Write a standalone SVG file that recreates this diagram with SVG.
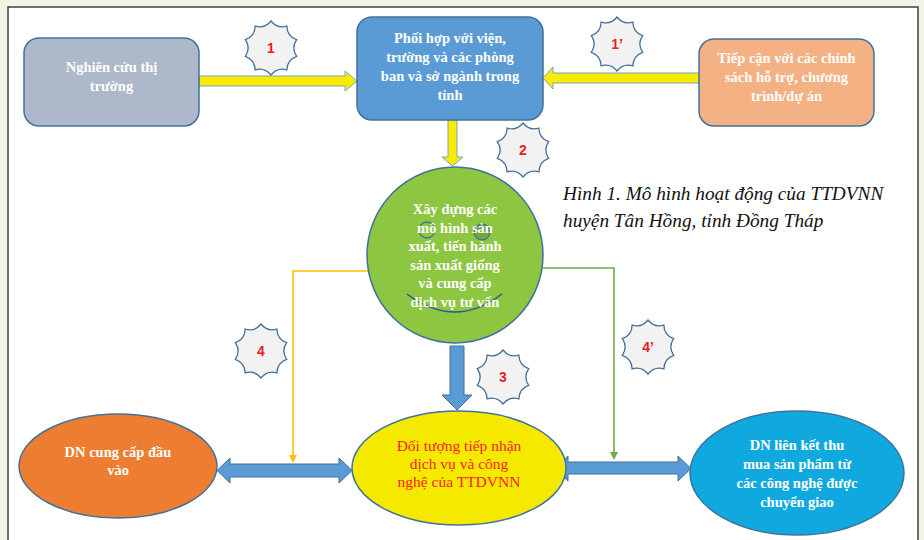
<svg xmlns="http://www.w3.org/2000/svg" xmlns:xlink="http://www.w3.org/1999/xlink" width="924" height="540" viewBox="0 0 924 540">
<style>
.bg{fill:#f4f4e6}
.frame{fill:#ffffff;stroke:#3f3f3f;stroke-width:1.5}
.node{stroke:#41719c;stroke-width:1.5}
.wt{font-family:"Liberation Serif","Times New Roman",serif;font-weight:bold;font-size:14.5px;fill:#ffffff;text-anchor:middle}
.rt{font-family:"Liberation Serif","Times New Roman",serif;font-size:15.5px;fill:#ff1a1a;text-anchor:middle}
.badge{fill:#f2f2f2;stroke:#41719c;stroke-width:1.3}
.bt{font-family:"Liberation Sans",Arial,sans-serif;font-weight:bold;font-size:14px;fill:#ee1c1c;text-anchor:middle}
.yarrow{fill:#f7ec00;stroke:#7f9fd0;stroke-width:1}
.barrow{fill:#5b9bd5;stroke:#41719c;stroke-width:1}
.cap{font-family:"Liberation Serif","Times New Roman",serif;font-style:italic;font-size:19.3px;fill:#111111}
</style>
<defs>
<path id="star" d="M0,-27 Q6.18,-19.02 15.87,-21.84 Q16.18,-11.76 25.68,-8.34 Q20,0 25.68,8.34 Q16.18,11.76 15.87,21.84 Q6.18,19.02 0,27 Q-6.18,19.02 -15.87,21.84 Q-16.18,11.76 -25.68,8.34 Q-20,0 -25.68,-8.34 Q-16.18,-11.76 -15.87,-21.84 Q-6.18,-19.02 0,-27 Z"/>
</defs>
<rect class="bg" x="0" y="0" width="924" height="540"/>
<rect class="frame" x="8" y="7" width="910" height="560"/>

<g id="connectors">
<polygon class="yarrow" points="199,76 345,76 345,71 357,81 345,91 345,86 199,86"/>
<polygon class="yarrow" points="699,73 553,73 553,67 543,78 553,89 553,83 699,83"/>
<polygon class="yarrow" points="448,120 457,120 457,157 463,157 452.5,166 442,157 448,157"/>
<polygon class="barrow" points="450,346 464,346 464,395 472,395 457,410 442,395 450,395"/>
<polygon class="barrow" points="217,470.5 230,458 230,464 339,464 339,458 352,470.5 339,483 339,477 230,477 230,483"/>
<polygon class="barrow" points="555,468.5 568,456 568,462 678,462 678,456 691,468.5 678,481 678,474 568,474 568,481"/>
<path d="M368,271 H293 V456" fill="none" stroke="#ffc000" stroke-width="1.6"/>
<polygon points="289,455 297,455 293,463" fill="#ffc000"/>
<path d="M541,268 H614 V453" fill="none" stroke="#70ad47" stroke-width="1.6"/>
<polygon points="610,452 618,452 614,460" fill="#70ad47"/>
</g>

<g id="node-nghien-cuu">
<rect class="node" x="24" y="38" width="175" height="88" rx="15" fill="#adb9ca"/>
<text class="wt" x="111.5" y="72">Nghiên cứu thị</text>
<text class="wt" x="111.5" y="91">trường</text>
</g>

<g id="node-phoi-hop">
<rect class="node" x="357" y="17" width="186" height="103" rx="15" fill="#5b9bd5"/>
<text class="wt" x="450" y="43">Phối hợp với viện,</text>
<text class="wt" x="450" y="62">trường và các phòng</text>
<text class="wt" x="450" y="81">ban và sở ngành trong</text>
<text class="wt" x="450" y="100">tỉnh</text>
</g>

<g id="node-tiep-can">
<rect class="node" x="699" y="39" width="175" height="87" rx="15" fill="#f4b183"/>
<text class="wt" x="786.5" y="63">Tiếp cận với các chính</text>
<text class="wt" x="786.5" y="82">sách hỗ trợ, chương</text>
<text class="wt" x="786.5" y="101">trình/dự án</text>
</g>

<g id="node-xay-dung">
<circle class="node" cx="455" cy="255" r="88" fill="#8dc641"/>
<circle cx="427" cy="230" r="8" fill="#8dc641" stroke="#41719c" stroke-width="1.3"/>
<circle cx="482" cy="232" r="8" fill="#6fa838" stroke="#41719c" stroke-width="1.3"/>
<path d="M407,294 Q455,330 502,294" fill="none" stroke="#2f5597" stroke-width="1.5"/>
<text class="wt" x="455" y="214">Xây dựng các</text>
<text class="wt" x="455" y="232.6">mô hình sản</text>
<text class="wt" x="455" y="251.2">xuất, tiến hành</text>
<text class="wt" x="455" y="269.8">sản xuất giống</text>
<text class="wt" x="455" y="288.4">và cung cấp</text>
<text class="wt" x="455" y="307">dịch vụ tư vấn</text>
</g>

<g id="node-dn-cung-cap">
<ellipse class="node" cx="118" cy="466" rx="99" ry="52" fill="#ed7d31"/>
<text class="wt" x="118" y="457">DN cung cấp đầu</text>
<text class="wt" x="118" y="475">vào</text>
</g>

<g id="node-doi-tuong">
<ellipse class="node" cx="459" cy="468" rx="107" ry="57" fill="#f5e900"/>
<text class="rt" x="459" y="451">Đối tượng tiếp nhận</text>
<text class="rt" x="459" y="469">dịch vụ và công</text>
<text class="rt" x="459" y="487">nghệ của TTDVNN</text>
</g>

<g id="node-dn-lien-ket">
<ellipse class="node" cx="797" cy="473" rx="107" ry="62" fill="#0fa9e0"/>
<text class="wt" x="797" y="450">DN liên kết thu</text>
<text class="wt" x="797" y="469">mua sản phẩm từ</text>
<text class="wt" x="797" y="488">các công nghệ được</text>
<text class="wt" x="797" y="507">chuyển giao</text>
</g>

<g id="badge-1"><use xlink:href="#star" class="badge" transform="translate(271,48)"/><text class="bt" x="271" y="53">1</text></g>
<g id="badge-1p"><use xlink:href="#star" class="badge" transform="translate(617,44)"/><text class="bt" x="617" y="49">1’</text></g>
<g id="badge-2"><use xlink:href="#star" class="badge" transform="translate(523,150)"/><text class="bt" x="523" y="155">2</text></g>
<g id="badge-3"><use xlink:href="#star" class="badge" transform="translate(503,377)"/><text class="bt" x="503" y="382">3</text></g>
<g id="badge-4"><use xlink:href="#star" class="badge" transform="translate(261,351)"/><text class="bt" x="261" y="356">4</text></g>
<g id="badge-4p"><use xlink:href="#star" class="badge" transform="translate(648,347)"/><text class="bt" x="648" y="352">4’</text></g>

<g id="caption">
<text class="cap" x="563" y="200">Hình 1. Mô hình hoạt động của TTDVNN</text>
<text class="cap" x="563" y="227">huyện Tân Hồng, tỉnh Đồng Tháp</text>
</g>
</svg>
